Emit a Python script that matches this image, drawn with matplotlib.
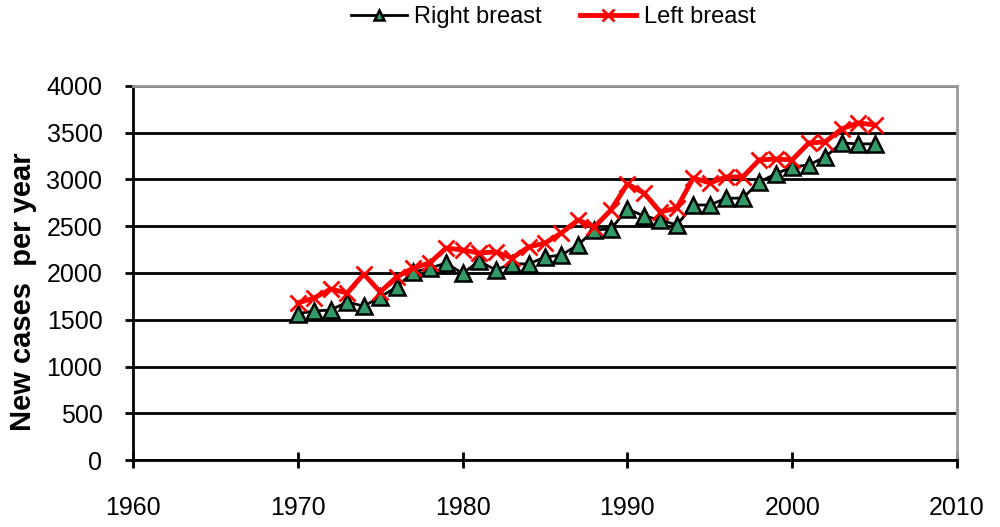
import matplotlib.pyplot as plt
from matplotlib.ticker import MultipleLocator

plt.rcParams['font.family'] = ['Liberation Sans', 'DejaVu Sans']

years = list(range(1970, 2006))
right_breast = [1565, 1594, 1604, 1690, 1645, 1743, 1850, 2010, 2050, 2107,
                1995, 2128, 2032, 2100, 2096, 2170, 2192, 2300, 2460, 2470,
                2684, 2610, 2567, 2513, 2727, 2727, 2800, 2800, 2973, 3059,
                3134, 3155, 3240, 3390, 3380, 3380]
left_breast = [1680, 1733, 1829, 1786, 1989, 1797, 1957, 2053, 2107, 2267,
               2246, 2214, 2225, 2160, 2278, 2320, 2428, 2567, 2492, 2674,
               2952, 2856, 2652, 2695, 3016, 2963, 3027, 3027, 3209, 3219,
               3209, 3390, 3401, 3540, 3604, 3583]

fig = plt.figure(figsize=(10, 5.27), dpi=100)
ax = fig.add_axes([0.133, 0.127, 0.824, 0.71])

ax.yaxis.set_major_locator(MultipleLocator(500))
ax.grid(True, axis='y', color='black', linewidth=2)
ax.set_axisbelow(True)

ax.plot(years, right_breast, color='black', linewidth=2, marker='^',
        markersize=11, markerfacecolor='#339966', markeredgecolor='black',
        markeredgewidth=1.8, label='Right breast')
ax.plot(years, left_breast, color='red', linewidth=3.5, marker='x',
        markersize=12, markeredgewidth=2, label='Left breast')

ax.set_xlim(1960, 2010)
ax.set_ylim(0, 4000)
ax.set_xticks(range(1960, 2011, 10))

for s in ['top', 'right']:
    ax.spines[s].set_color('#999999')
    ax.spines[s].set_linewidth(2)
ax.spines['left'].set_linewidth(2)
ax.spines['bottom'].set_linewidth(2)

ax.tick_params(axis='x', direction='inout', length=12, width=2, pad=20, labelsize=18)
ax.tick_params(axis='y', direction='out', length=6, width=2, pad=16, labelsize=18)

ax.set_ylabel('New cases  per year', fontsize=21, fontweight='bold')
ax.yaxis.set_label_coords(-0.117, 0.45)

fig.legend(loc='center', bbox_to_anchor=(0.553, 0.967), ncol=2, frameon=False,
           fontsize=17, handlelength=2.4, handletextpad=0.3, columnspacing=1.6,
           markerscale=0.7)

fig.savefig('out.png', dpi=100)
